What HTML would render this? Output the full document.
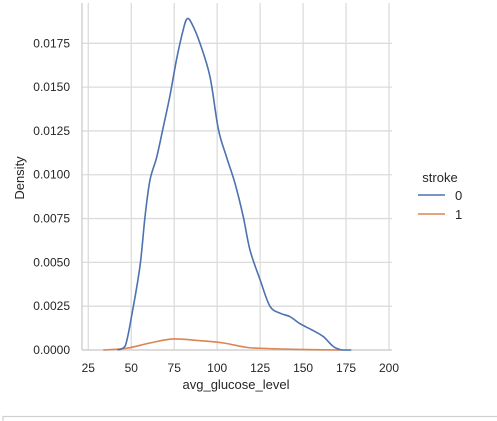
<!DOCTYPE html>
<html><head><meta charset="utf-8"><style>
body{margin:0;background:#fff;width:497px;height:421px;overflow:hidden;font-family:"Liberation Sans",sans-serif;}
svg{display:block}
text{font-family:"Liberation Sans",sans-serif;fill:#262626;}
</style></head><body>
<svg id="chart" width="497" height="421"></svg>
<script>
const xTicks=[25,50,75,100,125,150,175,200];
const yTicks=[0,0.0025,0.005,0.0075,0.01,0.0125,0.015,0.0175];
const yTickLabels=["0.0000","0.0025","0.0050","0.0075","0.0100","0.0125","0.0150","0.0175"];
const stroke0X=[42,46.5,50.5,55.1,58,60.9,64.8,68.7,72.5,76.4,80.3,82.5,85.1,90,95.8,100.7,105.5,110.4,115.2,119.1,125,130.7,136.6,142.4,148.2,156,161.8,167.6,172.5,178];
const stroke0Y=[0,0.00023,0.0021,0.0048,0.0076,0.0097,0.011,0.01275,0.0145,0.0166,0.0183,0.0189,0.01865,0.0175,0.0156,0.0126,0.011,0.0095,0.0076,0.0057,0.004,0.0025,0.0021,0.0019,0.0015,0.0011,0.00076,0.0002,0,0];
const stroke1X=[33.7,47.3,60.9,74.5,90,103.6,117.1,125,144,171.5];
const stroke1Y=[0,0.0001,0.0004,0.00063,0.00053,0.0004,0.00015,0.0001,0.00004,0];
const NS="http://www.w3.org/2000/svg";
const svg=document.getElementById('chart');
const X0=82,X1=392,Y0=350,YT=3;
const sx=v=>88.3+(v-25)*(300.7/175);
const sy=v=>350-v*(306.7/0.0175);
function mk(tag,attrs,parent){const e=document.createElementNS(NS,tag);for(const k in attrs)e.setAttribute(k,attrs[k]);(parent||svg).appendChild(e);return e;}
xTicks.forEach((t,i)=>{
 const l=mk('line',{x1:sx(t),x2:sx(t),y1:YT,y2:Y0,stroke:'#dcdcdc','stroke-width':1.3});
 
 
 const tx=mk('text',{x:sx(t),y:372,'text-anchor':'middle','font-size':12});
 tx.textContent=t;
 
 
});
yTicks.forEach((t,i)=>{
 const l=mk('line',{x1:X0,x2:X1,y1:sy(t),y2:sy(t),stroke:'#dcdcdc','stroke-width':1.3});
 
 
 const tx=mk('text',{x:70,y:sy(t)+4,'text-anchor':'end','font-size':12});
 tx.textContent=yTickLabels[i];
 
 
});
const ls=mk('line',{x1:X0,x2:X0,y1:YT,y2:Y0,stroke:'#cccccc','stroke-width':1.3});


const bs=mk('line',{x1:X0,x2:X1,y1:Y0,y2:Y0,stroke:'#cccccc','stroke-width':1.3});


function path(xs,ys){
 const p=xs.map((x,i)=>[sx(x),sy(ys[i])]);
 const cl=y=>Math.min(y,Y0);
 let d='M'+p[0][0]+','+p[0][1];
 for(let i=0;i<p.length-1;i++){
  const a=p[Math.max(i-1,0)],b=p[i],c=p[i+1],e=p[Math.min(i+2,p.length-1)];
  d+=` C${b[0]+(c[0]-a[0])/6},${cl(b[1]+(c[1]-a[1])/6)} ${c[0]-(e[0]-b[0])/6},${cl(c[1]-(e[1]-b[1])/6)} ${c[0]},${c[1]}`;
 }
 return d;
}
const c1=mk('path',{d:path(stroke1X,stroke1Y),fill:'none',stroke:'#dd8452','stroke-width':1.6});


const c0=mk('path',{d:path(stroke0X,stroke0Y),fill:'none',stroke:'#4c72b0','stroke-width':1.6});


</script>
<svg style="position:absolute;left:0;top:0" width="497" height="421">
<text x="236" y="389" text-anchor="middle" font-size="13">avg_glucose_level</text>
<text transform="translate(24,178) rotate(-90)" text-anchor="middle" font-size="13">Density</text>
<g>
<text x="440" y="182" text-anchor="middle" font-size="13">stroke</text>
<line x1="418" x2="445" y1="195" y2="195" stroke="#4c72b0" stroke-width="1.6"/>
<text x="455" y="200" font-size="13">0</text>
<line x1="418" x2="445" y1="214" y2="214" stroke="#dd8452" stroke-width="1.6"/>
<text x="455" y="219" font-size="13">1</text>
</g>
<rect x="3" y="416.5" width="500" height="10" fill="none" stroke="#d0d0d0" stroke-width="1.2"/>
</svg>
</body></html>
